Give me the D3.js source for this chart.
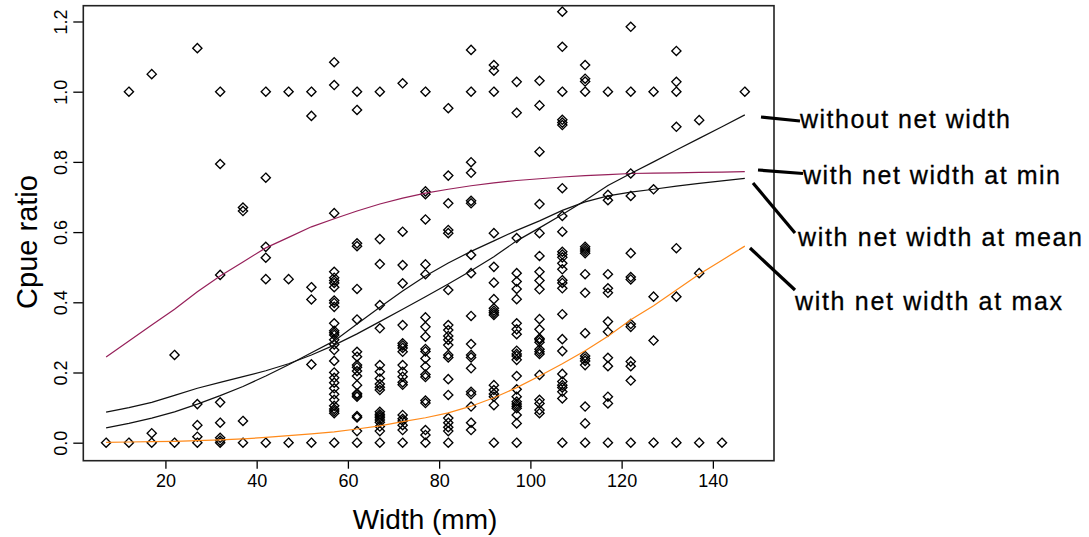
<!DOCTYPE html>
<html>
<head>
<meta charset="utf-8">
<script src="https://cdn.jsdelivr.net/npm/d3@7"></script>
<style>
  html, body { margin: 0; padding: 0; background: #fff; }
  svg { display: block; }
  text { font-family: "Liberation Sans", Arial, Helvetica, sans-serif; fill: #000; }
</style>
</head>
<body>
<svg id="chart" width="1089" height="537"></svg>
<script>
// ---------- DATA ----------
const xTicks = [20, 40, 60, 80, 100, 120, 140];
const yTicks = [0.0, 0.2, 0.4, 0.6, 0.8, 1.0, 1.2];

// observed points: [width, [cpue ratios]]
const observed = [
  [7,   [0]],
  [12,  [0, 1.0]],
  [17,  [0, 0.027, 1.05]],
  [22,  [0, 0.25]],
  [27,  [0, 0.017, 0.05, 0.11, 1.124]],
  [32,  [0, 0.006, 0.014, 0.057, 0.115, 0.478, 0.794, 1.0]],
  [37,  [0, 0.062, 0.66, 0.67]],
  [42,  [0, 0.466, 0.527, 0.558, 0.755, 1.0]],
  [47,  [0, 0.466, 1.0]],
  [52,  [0, 0.223, 0.408, 0.443, 0.931, 1.0]],
  [57,  [0, 0.084, 0.09, 0.096, 0.105, 0.122, 0.138, 0.155, 0.171, 0.185, 0.2, 0.233, 0.264, 0.28, 0.293, 0.307, 0.313, 0.319, 0.34, 0.387, 0.398, 0.405, 0.443, 0.455, 0.462, 0.47, 0.487, 0.654, 1.019, 1.084]],
  [62,  [0, 0.033, 0.072, 0.076, 0.131, 0.136, 0.14, 0.164, 0.19, 0.204, 0.215, 0.221, 0.245, 0.259, 0.351, 0.438, 0.56, 0.568, 0.948, 1.0]],
  [67,  [0, 0.033, 0.046, 0.058, 0.065, 0.071, 0.076, 0.081, 0.088, 0.15, 0.158, 0.167, 0.183, 0.202, 0.221, 0.326, 0.392, 0.509, 0.58, 1.0]],
  [72,  [0, 0.036, 0.05, 0.062, 0.068, 0.079, 0.165, 0.172, 0.188, 0.202, 0.221, 0.259, 0.27, 0.277, 0.283, 0.335, 0.454, 0.506, 0.601, 1.024]],
  [77,  [0, 0.022, 0.036, 0.113, 0.12, 0.187, 0.194, 0.217, 0.24, 0.26, 0.267, 0.302, 0.33, 0.357, 0.48, 0.508, 0.636, 0.708, 0.716, 1.0]],
  [82,  [0, 0.033, 0.044, 0.057, 0.07, 0.136, 0.181, 0.243, 0.25, 0.278, 0.293, 0.304, 0.321, 0.335, 0.435, 0.597, 0.606, 0.682, 0.761, 0.953]],
  [87,  [0.036, 0.057, 0.103, 0.138, 0.145, 0.212, 0.243, 0.25, 0.281, 0.361, 0.483, 0.535, 0.682, 0.689, 0.769, 0.799, 1.0, 1.119]],
  [92,  [0, 0.107, 0.131, 0.139, 0.15, 0.164, 0.364, 0.37, 0.376, 0.383, 0.409, 0.456, 0.501, 0.597, 1.0, 1.06, 1.076]],
  [97,  [0, 0.055, 0.079, 0.098, 0.104, 0.11, 0.117, 0.131, 0.152, 0.19, 0.236, 0.247, 0.253, 0.262, 0.309, 0.323, 0.34, 0.409, 0.438, 0.459, 0.483, 0.583, 0.94, 1.028]],
  [102, [0.084, 0.093, 0.112, 0.122, 0.193, 0.253, 0.259, 0.266, 0.286, 0.293, 0.297, 0.323, 0.352, 0.437, 0.462, 0.487, 0.532, 0.597, 0.68, 0.829, 0.961, 1.031]],
  [107, [0, 0.126, 0.145, 0.157, 0.164, 0.174, 0.196, 0.261, 0.295, 0.366, 0.44, 0.455, 0.463, 0.494, 0.511, 0.528, 0.536, 0.544, 0.601, 0.646, 0.725, 0.905, 0.912, 0.92, 1.0, 1.128, 1.228]],
  [112, [0, 0.055, 0.103, 0.221, 0.233, 0.24, 0.247, 0.312, 0.427, 0.48, 0.54, 0.546, 0.552, 0.558, 1.0, 1.029, 1.037, 1.076]],
  [117, [0, 0.112, 0.131, 0.218, 0.242, 0.316, 0.345, 0.427, 0.44, 0.48, 0.691, 0.706, 1.0]],
  [122, [0, 0.177, 0.218, 0.231, 0.33, 0.338, 0.465, 0.472, 0.54, 0.703, 0.767, 1.0, 1.185]],
  [127, [0, 0.291, 0.416, 0.722, 1.0]],
  [132, [0, 0.416, 0.554, 0.9, 1.0, 1.028, 1.116]],
  [137, [0, 0.483, 0.919]],
  [142, [0]],
  [147, [1.0]]
];

// fitted curves, evaluated at these widths
const curveWidths = [7, 12, 17, 22, 27, 32, 37, 42, 47, 52, 57, 62, 67, 72, 77, 82, 87, 92, 97, 102, 107, 112, 117, 122, 127, 132, 137, 142, 147];
const withoutNetWidth = [0.087, 0.1, 0.115, 0.135, 0.155, 0.172, 0.188, 0.205, 0.225, 0.25, 0.278, 0.31, 0.345, 0.38, 0.416, 0.452, 0.49, 0.53, 0.575, 0.612, 0.65, 0.69, 0.733, 0.767, 0.8, 0.834, 0.867, 0.9, 0.934];
const netWidthMin  = [0.244, 0.29, 0.335, 0.38, 0.43, 0.475, 0.515, 0.555, 0.585, 0.615, 0.638, 0.66, 0.68, 0.697, 0.711, 0.722, 0.732, 0.74, 0.747, 0.752, 0.757, 0.761, 0.764, 0.767, 0.768, 0.769, 0.77, 0.771, 0.772];
const netWidthMean = [0.042, 0.055, 0.07, 0.088, 0.11, 0.134, 0.16, 0.19, 0.222, 0.256, 0.29, 0.338, 0.386, 0.432, 0.475, 0.512, 0.545, 0.575, 0.605, 0.632, 0.662, 0.686, 0.703, 0.714, 0.722, 0.731, 0.739, 0.746, 0.753];
const netWidthMax  = [0.001, 0.002, 0.003, 0.004, 0.006, 0.008, 0.011, 0.015, 0.02, 0.025, 0.031, 0.039, 0.048, 0.06, 0.071, 0.085, 0.104, 0.128, 0.157, 0.19, 0.225, 0.262, 0.303, 0.35, 0.39, 0.435, 0.48, 0.52, 0.56];

const labels = ["without net width", "with net width at min", "with net width at mean", "with net width at max"];

// ---------- DRAW ----------
const svg = d3.select("#chart");
svg.append("rect").attr("width", 1089).attr("height", 537).attr("fill", "#fff");

const x = d3.scaleLinear().domain([2.0, 153.4]).range([83.3, 774]);
const y = d3.scaleLinear().domain([-0.0513, 1.245]).range([460.7, 5.7]);

// points
const pts = [];
observed.forEach(([w, ys]) => ys.forEach(v => pts.push([w, v])));
const r = 4.6;
svg.append("g").selectAll("path").data(pts).join("path")
  .attr("d", `M0,${-r}L${r},0L0,${r}L${-r},0Z`)
  .attr("transform", d => `translate(${x(d[0])},${y(d[1])})`)
  .attr("fill", "none").attr("stroke", "#000").attr("stroke-width", 1.35);

// curves
const line = d3.line().x((d, i) => x(curveWidths[i])).y(d => y(d));
const curves = [
  { v: netWidthMin, c: "#96205a" },
  { v: netWidthMax, c: "#ff8a1a" },
  { v: withoutNetWidth, c: "#111" },
  { v: netWidthMean, c: "#111" }
];
curves.forEach(cv => {
  svg.append("path").attr("d", line(cv.v)).attr("fill", "none")
    .attr("stroke", cv.c).attr("stroke-width", 1.2);
});

// axes
const xAxis = d3.axisBottom(x).tickValues(xTicks).tickSize(8).tickPadding(6).tickFormat(d3.format("d"));
const gx = svg.append("g").attr("transform", "translate(0,460.7)").call(xAxis);
gx.select(".domain").remove();
gx.selectAll("line").attr("stroke", "#000").attr("stroke-width", 1.3);
gx.selectAll("text").attr("font-size", 18).attr("font-family", "Liberation Sans, Arial, sans-serif").attr("fill", "#000");

const yAxis = d3.axisLeft(y).tickValues(yTicks).tickSize(10).tickFormat(d3.format(".1f"));
const gy = svg.append("g").attr("transform", "translate(83.3,0)").call(yAxis);
gy.select(".domain").remove();
gy.selectAll("line").attr("stroke", "#000").attr("stroke-width", 1.3);
gy.selectAll("text")
  .attr("font-size", 18).attr("font-family", "Liberation Sans, Arial, sans-serif").attr("fill", "#000")
  .attr("x", null)
  .attr("text-anchor", "middle")
  .attr("transform", "translate(-23,0) rotate(-90)")
  .attr("dy", "0.35em");

// box
svg.append("rect").attr("x", 83.3).attr("y", 5.7).attr("width", 774 - 83.3).attr("height", 460.7 - 5.7)
  .attr("fill", "none").attr("stroke", "#222").attr("stroke-width", 1.6);

// axis titles
svg.append("text").attr("x", 425).attr("y", 529).attr("text-anchor", "middle")
  .attr("font-size", 28).text("Width (mm)");
svg.append("text").attr("transform", "translate(37,242) rotate(-90)").attr("text-anchor", "middle")
  .attr("font-size", 29).text("Cpue ratio");

// annotations
const ann = [
  { t: labels[0], tx: 800, ty: 128, tw: 210, l: [761, 117, 800, 121] },
  { t: labels[1], tx: 803, ty: 184, tw: 257, l: [758, 170, 803, 173.5] },
  { t: labels[2], tx: 798, ty: 246, tw: 284, l: [753, 183, 795, 233] },
  { t: labels[3], tx: 795, ty: 310, tw: 267, l: [750, 248, 795, 290] }
];
ann.forEach(a => {
  svg.append("line").attr("x1", a.l[0]).attr("y1", a.l[1]).attr("x2", a.l[2]).attr("y2", a.l[3])
    .attr("stroke", "#000").attr("stroke-width", 3.2);
  svg.append("text").attr("x", a.tx).attr("y", a.ty).attr("font-size", 25)
    .attr("stroke", "#000").attr("stroke-width", 0.3)
    .attr("textLength", a.tw).attr("lengthAdjust", "spacing").text(a.t);
});
</script>
</body>
</html>
